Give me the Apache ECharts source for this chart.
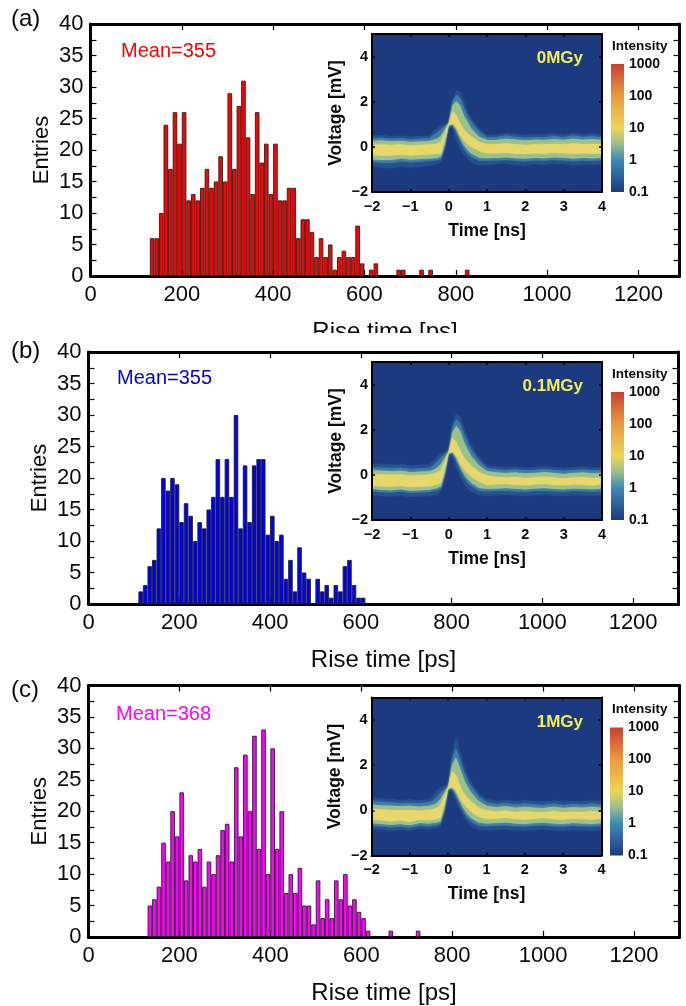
<!DOCTYPE html>
<html>
<head>
<meta charset="utf-8">
<style>html,body{margin:0;padding:0;background:#fff}#c{width:686px;height:1006px}</style>
<script src="https://cdn.jsdelivr.net/npm/echarts@6/dist/echarts.min.js"></script>
</head>
<body>
<div id="c"></div>
<script>
// ---------- histogram data (entries per 10 ps bin) ----------
const binStartA = 130;
const entriesA = [6,6,10,24,17,26,21,26,12,13,12,14,17,14,15,19,15,29,17,27,31,22,13,26,18,21,13,21,12,12,14,14,6,9,9,7,3,6,3,5,1,3,4,3,3,8,2,0,1,2,0,0,0,0,1,1,0,0,0,1,0,1,0,0,0,0,0,0,0,1];
const binStartB = 110;
const entriesB = [2,3,6,7,12,20,18,20,19,13,16,14,10,13,12,15,17,23,17,23,17,30,12,22,13,22,23,23,11,14,10,11,4,7,2,9,5,4,0,4,2,3,1,3,2,6,7,3,1,1];
const binStartC = 130;
const entriesC = [5,6,8,15,12,20,16,23,9,13,12,14,8,12,10,13,17,18,12,27,16,29,20,32,14,33,10,30,14,20,7,10,7,11,5,5,2,9,3,6,3,9,6,10,5,6,4,3,1,0,0,0,0,1,0,0,0,0,0,1];
const meanLabels = ['Mean=355','Mean=355','Mean=368'];
const doseLabels = ['0MGy','0.1MGy','1MGy'];
const panelLabels = ['(a)','(b)','(c)'];
const xTickStep = 200, yTickStep = 5;
const intensityTicks = [0.1,1,10,100,1000];

// ---------- waveform density: band edges [mV] read at these times [ns] ----------
const times = [-2,-1.75,-1.5,-1.25,-1,-0.75,-0.5,-0.4,-0.3,-0.2,-0.1,0,0.1,0.2,0.3,0.4,0.5,0.6,0.8,1,1.25,1.5,1.75,2,2.25,2.5,2.75,3,3.25,3.5,3.75,4];

const a_faintHi = [0.50,0.52,0.47,0.49,0.45,0.47,0.50,0.70,0.80,0.94,1.02,1.08,2.10,2.50,2.42,1.98,1.52,1.25,0.80,0.52,0.54,0.62,0.56,0.52,0.56,0.54,0.60,0.54,0.62,0.56,0.60,0.54];
const a_faintLo = [-0.85,-0.92,-0.95,-0.86,-0.92,-0.88,-0.82,-0.80,-0.76,-0.66,-0.10,0.90,0.88,0.32,-0.05,-0.36,-0.55,-0.70,-0.82,-0.80,-0.76,-0.74,-0.80,-0.82,-0.76,-0.80,-0.74,-0.76,-0.82,-0.78,-0.80,-0.76];
const a_outerHi = [0.38,0.40,0.36,0.38,0.34,0.36,0.38,0.52,0.62,0.78,0.92,1.06,1.98,2.30,2.18,1.74,1.34,1.08,0.66,0.42,0.44,0.50,0.44,0.40,0.44,0.42,0.48,0.42,0.50,0.44,0.48,0.42];
const a_outerLo = [-0.66,-0.70,-0.72,-0.64,-0.68,-0.66,-0.62,-0.60,-0.58,-0.54,-0.02,0.92,0.96,0.62,0.24,-0.08,-0.30,-0.46,-0.62,-0.62,-0.60,-0.58,-0.62,-0.64,-0.60,-0.62,-0.58,-0.60,-0.64,-0.60,-0.62,-0.60];
const a_midHi = [0.26,0.28,0.25,0.26,0.22,0.24,0.26,0.30,0.36,0.50,0.78,1.05,1.82,2.02,1.82,1.38,1.08,0.78,0.44,0.30,0.30,0.36,0.32,0.28,0.32,0.30,0.34,0.30,0.36,0.32,0.34,0.30];
const a_midLo = [-0.55,-0.58,-0.58,-0.52,-0.56,-0.54,-0.52,-0.50,-0.48,-0.42,0.10,0.93,1.00,0.76,0.38,0.08,-0.14,-0.30,-0.47,-0.50,-0.48,-0.46,-0.50,-0.52,-0.48,-0.50,-0.46,-0.48,-0.52,-0.48,-0.50,-0.48];
const a_coreHi = [0.08,0.10,0.08,0.10,0.06,0.08,0.10,0.12,0.14,0.24,0.62,1.03,1.58,1.40,1.04,0.74,0.58,0.44,0.20,0.12,0.12,0.16,0.12,0.08,0.12,0.10,0.14,0.10,0.16,0.12,0.14,0.10];
const a_coreLo = [-0.36,-0.38,-0.38,-0.34,-0.38,-0.36,-0.34,-0.32,-0.32,-0.30,0.36,0.96,1.04,0.88,0.52,0.30,0.12,0.00,-0.18,-0.28,-0.28,-0.26,-0.30,-0.32,-0.28,-0.30,-0.26,-0.28,-0.32,-0.28,-0.30,-0.28];

const b_faintHi = [0.50,0.48,0.46,0.48,0.42,0.44,0.46,0.62,0.78,0.94,1.02,1.10,2.30,2.72,2.60,2.10,1.62,1.28,0.76,0.42,0.36,0.34,0.36,0.32,0.34,0.38,0.34,0.30,0.34,0.36,0.32,0.34];
const b_faintLo = [-0.90,-0.94,-0.96,-0.92,-0.98,-0.96,-0.94,-0.90,-0.86,-0.72,-0.12,0.90,0.86,0.30,-0.08,-0.40,-0.62,-0.76,-0.90,-0.92,-0.90,-0.88,-0.92,-0.94,-0.90,-0.88,-0.92,-0.94,-0.90,-0.92,-0.94,-0.90];
const b_outerHi = [0.34,0.32,0.30,0.32,0.26,0.28,0.30,0.42,0.58,0.76,0.92,1.06,2.10,2.46,2.30,1.82,1.40,1.08,0.62,0.30,0.24,0.22,0.24,0.20,0.22,0.26,0.22,0.18,0.22,0.24,0.20,0.22];
const b_outerLo = [-0.72,-0.76,-0.78,-0.74,-0.80,-0.78,-0.76,-0.72,-0.68,-0.60,-0.04,0.92,0.96,0.60,0.22,-0.12,-0.36,-0.52,-0.72,-0.74,-0.72,-0.70,-0.74,-0.76,-0.72,-0.70,-0.74,-0.76,-0.72,-0.74,-0.76,-0.72];
const b_midHi = [0.20,0.18,0.16,0.18,0.12,0.14,0.16,0.22,0.32,0.48,0.76,1.05,1.90,2.16,1.94,1.46,1.10,0.80,0.40,0.16,0.10,0.08,0.10,0.06,0.08,0.12,0.08,0.04,0.08,0.10,0.06,0.08];
const b_midLo = [-0.62,-0.66,-0.68,-0.64,-0.70,-0.68,-0.66,-0.62,-0.58,-0.50,0.08,0.93,1.00,0.74,0.36,0.04,-0.20,-0.36,-0.58,-0.62,-0.60,-0.58,-0.62,-0.64,-0.60,-0.58,-0.62,-0.64,-0.60,-0.62,-0.64,-0.60];
const b_coreHi = [0.04,0.02,0.00,0.02,-0.04,-0.02,0.00,0.04,0.10,0.22,0.60,1.03,1.62,1.44,1.08,0.76,0.56,0.38,0.12,-0.04,-0.10,-0.12,-0.10,-0.14,-0.12,-0.08,-0.12,-0.16,-0.12,-0.10,-0.14,-0.12];
const b_coreLo = [-0.46,-0.50,-0.52,-0.48,-0.54,-0.52,-0.50,-0.46,-0.42,-0.36,0.34,0.96,1.04,0.86,0.50,0.26,0.06,-0.08,-0.30,-0.44,-0.42,-0.40,-0.44,-0.46,-0.42,-0.40,-0.44,-0.46,-0.42,-0.44,-0.46,-0.42];

const c_faintHi = [0.56,0.52,0.50,0.46,0.48,0.44,0.50,0.66,0.86,1.02,1.08,1.14,2.45,3.28,2.66,2.02,1.56,1.26,0.78,0.50,0.42,0.46,0.40,0.44,0.40,0.38,0.44,0.38,0.42,0.40,0.44,0.40];
const c_faintLo = [-0.82,-0.86,-0.90,-0.86,-0.92,-0.82,-0.84,-0.82,-0.80,-0.70,-0.14,0.90,0.86,0.44,0.08,-0.28,-0.50,-0.68,-0.86,-0.88,-0.86,-0.84,-0.88,-0.90,-0.86,-0.84,-0.88,-0.90,-0.86,-0.88,-0.90,-0.86];
const c_outerHi = [0.42,0.38,0.36,0.32,0.34,0.30,0.36,0.44,0.58,0.78,0.94,1.08,2.22,2.76,2.30,1.78,1.36,1.06,0.62,0.36,0.28,0.32,0.26,0.30,0.26,0.24,0.30,0.24,0.28,0.26,0.30,0.26];
const c_outerLo = [-0.68,-0.72,-0.76,-0.72,-0.78,-0.68,-0.70,-0.68,-0.66,-0.58,-0.06,0.92,0.96,0.64,0.28,-0.08,-0.32,-0.50,-0.68,-0.70,-0.68,-0.66,-0.70,-0.72,-0.68,-0.66,-0.70,-0.72,-0.68,-0.70,-0.72,-0.68];
const c_midHi = [0.26,0.22,0.20,0.18,0.20,0.16,0.20,0.24,0.32,0.50,0.78,1.06,2.00,2.34,1.92,1.42,1.06,0.78,0.40,0.20,0.14,0.18,0.12,0.16,0.12,0.10,0.16,0.10,0.14,0.12,0.16,0.12];
const c_midLo = [-0.56,-0.60,-0.64,-0.60,-0.66,-0.56,-0.58,-0.56,-0.54,-0.48,0.06,0.93,1.00,0.78,0.42,0.08,-0.16,-0.34,-0.54,-0.58,-0.56,-0.54,-0.58,-0.60,-0.56,-0.54,-0.58,-0.60,-0.56,-0.58,-0.60,-0.56];
const c_coreHi = [0.06,0.04,0.02,0.00,0.02,-0.02,0.02,0.04,0.10,0.24,0.62,1.03,1.72,1.58,1.12,0.78,0.56,0.38,0.12,0.00,-0.06,-0.02,-0.08,-0.04,-0.08,-0.10,-0.04,-0.10,-0.06,-0.08,-0.04,-0.08];
const c_coreLo = [-0.40,-0.44,-0.48,-0.44,-0.50,-0.40,-0.42,-0.40,-0.38,-0.34,0.32,0.96,1.04,0.90,0.56,0.30,0.10,-0.06,-0.28,-0.38,-0.36,-0.34,-0.38,-0.40,-0.36,-0.34,-0.38,-0.40,-0.36,-0.38,-0.40,-0.36];

// ---------- layout and style ----------
const FONT = 'Liberation Sans';
const INK = '#0a0a0a';
const panels = [
  {bin:binStartA, vals:entriesA, color:'#ff0000', left:90.5, top:24, w:589, xMax:1290, inset:[372,34], meanXY:[121,52],
   bands:[[a_faintHi,a_faintLo],[a_outerHi,a_outerLo],[a_midHi,a_midLo],[a_coreHi,a_coreLo]]},
  {bin:binStartB, vals:entriesB, color:'#0000f0', left:88.5, top:352, w:590, xMax:1300, inset:[372,362], meanXY:[117,379],
   bands:[[b_faintHi,b_faintLo],[b_outerHi,b_outerLo],[b_midHi,b_midLo],[b_coreHi,b_coreLo]]},
  {bin:binStartC, vals:entriesC, color:'#ff00ff', left:88.5, top:685.5, w:591, xMax:1300, inset:[371.5,697.5], meanXY:[116,715],
   bands:[[c_faintHi,c_faintLo],[c_outerHi,c_outerLo],[c_midHi,c_midLo],[c_coreHi,c_coreLo]]}
];
const bandColors = ['#25508f','#3c7ba6','#9cc08a','#e8d86c'];
const barStops = [[0,'#c8402f'],[0.25,'#e99b3e'],[0.5,'#eed556'],[0.62,'#9cc08a'],[0.75,'#3d8ab5'],[1,'#1b3a80']];
const HEAT_BG = '#1b3a80';

const grid=[], xAxis=[], yAxis=[], series=[], graphic=[];

function addGrid(g){ grid.push(g); return grid.length-1; }
const plain = v=>String(v);

panels.forEach((p,i)=>{
  const H = 252;
  // main histogram
  const gi = addGrid({left:p.left, top:p.top, width:p.w, height:H, containLabel:false});
  const xi = xAxis.length;
  xAxis.push({gridIndex:gi, type:'value', min:0, max:p.xMax, interval:xTickStep, position:'bottom',
    name:'Rise time [ps]', nameLocation:'middle', nameGap:44,
    nameTextStyle:{fontFamily:FONT,fontSize:24,color:INK},
    axisLine:{show:true,onZero:false,lineStyle:{color:'#000',width:3}},
    axisTick:{show:true,inside:true,length:6,lineStyle:{color:'#000',width:1.2}},
    axisLabel:{fontFamily:FONT,fontSize:22,color:INK,margin:8,formatter:plain}, splitLine:{show:false}});
  xAxis.push({gridIndex:gi, type:'value', min:0, max:p.xMax, interval:xTickStep, position:'top',
    axisLine:{show:true,onZero:false,lineStyle:{color:'#000',width:3}},
    axisTick:{show:true,inside:true,length:6,lineStyle:{color:'#000',width:1.2}},
    axisLabel:{show:false}, splitLine:{show:false}});
  const yi = yAxis.length;
  yAxis.push({gridIndex:gi, type:'value', min:0, max:40, interval:yTickStep, position:'left',
    name:'Entries', nameLocation:'middle', nameGap:38, nameMoveOverlap:false,
    nameTextStyle:{fontFamily:FONT,fontSize:22,color:INK},
    axisLine:{show:true,onZero:false,lineStyle:{color:'#000',width:3}},
    axisTick:{show:true,inside:true,length:6,lineStyle:{color:'#000',width:1.2}},
    minorTick:{show:true,splitNumber:2,length:6,lineStyle:{color:'#000',width:1.2}},
    axisLabel:{fontFamily:FONT,fontSize:22,color:INK,margin:7,formatter:plain}, splitLine:{show:false}, minorSplitLine:{show:false}});
  yAxis.push({gridIndex:gi, type:'value', min:0, max:40, interval:yTickStep, position:'right',
    axisLine:{show:true,onZero:false,lineStyle:{color:'#000',width:3}},
    axisTick:{show:true,inside:true,length:6,lineStyle:{color:'#000',width:1.2}},
    minorTick:{show:true,splitNumber:2,length:6,lineStyle:{color:'#000',width:1.2}},
    axisLabel:{show:false}, splitLine:{show:false}, minorSplitLine:{show:false}});
  series.push({type:'bar', xAxisIndex:xi, yAxisIndex:yi, barWidth:p.w/p.xMax*10, animation:false,
    data:p.vals.map((v,k)=>[p.bin+10*k+5,v]).filter(d=>d[1]>0),
    itemStyle:{color:p.color,borderColor:'#222',borderWidth:0.9}});

  // inset waveform density
  const [ix,iy] = p.inset;
  const g2 = addGrid({left:ix, top:iy, width:230, height:158, show:true, backgroundColor:HEAT_BG, borderWidth:0, z:3});
  const x2 = xAxis.length;
  const minus = v=>String(v).replace('-','\u2212');
  const insetLine = {show:true,onZero:false,lineStyle:{color:'#000',width:2}};
  const insetTick = {show:true,inside:true,length:3,lineStyle:{color:'#000',width:1.5}};
  xAxis.push({gridIndex:g2, type:'value', min:-2, max:4, interval:1, position:'bottom', z:6,
    name:'Time [ns]', nameLocation:'middle', nameGap:30,
    nameTextStyle:{fontFamily:FONT,fontSize:17.5,fontWeight:'bold',color:INK},
    axisLine:insetLine, axisTick:insetTick,
    axisLabel:{fontFamily:FONT,fontSize:14.5,fontWeight:'bold',color:INK,margin:7,formatter:minus}, splitLine:{show:false}});
  xAxis.push({gridIndex:g2, type:'value', min:-2, max:4, interval:1, position:'top', z:6,
    axisLine:insetLine, axisTick:insetTick, axisLabel:{show:false}, splitLine:{show:false}});
  const y2 = yAxis.length;
  yAxis.push({gridIndex:g2, type:'value', min:-2, max:5, interval:2, position:'left', z:6,
    name:'Voltage [mV]', nameLocation:'middle', nameGap:27, nameMoveOverlap:false,
    nameTextStyle:{fontFamily:FONT,fontSize:17.5,fontWeight:'bold',color:INK},
    axisLine:insetLine, axisTick:insetTick,
    axisLabel:{fontFamily:FONT,fontSize:14.5,fontWeight:'bold',color:INK,margin:4,showMaxLabel:false,formatter:minus}, splitLine:{show:false}});
  yAxis.push({gridIndex:g2, type:'value', min:-2, max:5, interval:2, position:'right', z:6,
    axisLine:insetLine, axisTick:insetTick, axisLabel:{show:false}, splitLine:{show:false}});
  p.bands.forEach(([hi,lo],b)=>{
    series.push({type:'custom', xAxisIndex:x2, yAxisIndex:y2, z:4, animation:false, silent:true,
      clip:true,
      data:times.map((t,k)=>[t,lo[k],hi[k]]),
      encode:{x:0,y:[1,2]},
      renderItem:(params,api)=>{
        if(params.dataIndex!==0) return null;
        const pts=[];
        times.forEach((t,k)=>pts.push(api.coord([t,hi[k]])));
        for(let k=times.length-1;k>=0;k--) pts.push(api.coord([times[k],lo[k]]));
        return {type:'polygon',shape:{points:pts,smooth:0},
          style:{fill:bandColors[b],shadowBlur:1.5,shadowColor:bandColors[b]}};
      }});
  });

  // colour bar
  const cbx = i===2?610:611, cby = iy+30;
  const g3 = addGrid({left:cbx, top:cby, width:13, height:128});
  const x3 = xAxis.length;
  xAxis.push({gridIndex:g3, type:'value', min:0, max:1, show:false});
  const y3 = yAxis.length;
  yAxis.push({gridIndex:g3, type:'log', logBase:10, min:intensityTicks[0], max:intensityTicks[intensityTicks.length-1], position:'right',
    axisLine:{show:false}, axisTick:{show:false}, splitLine:{show:false}, minorTick:{show:false},
    axisLabel:{fontFamily:FONT,fontSize:14,fontWeight:'bold',color:INK,margin:5,showMinLabel:true,showMaxLabel:true,
      formatter:v=>String(Math.round(v*10)/10)}});
  series.push({type:'custom', xAxisIndex:x3, yAxisIndex:y3, animation:false, silent:true, clip:false,
    data:[[0,intensityTicks[0],intensityTicks[intensityTicks.length-1]]],
    encode:{x:0,y:[1,2]},
    renderItem:(params,api)=>{
      const a=api.coord([0,api.value(2)]), c=api.coord([1,api.value(1)]);
      return {type:'rect',shape:{x:a[0],y:a[1],width:c[0]-a[0],height:c[1]-a[1]},
        style:{fill:new echarts.graphic.LinearGradient(0,0,0,1,barStops.map(s=>({offset:s[0],color:s[1]})))}};
    }});

  // texts
  const tx=(text,x,y,fs,fill,weight,align)=>graphic.push({type:'text',left:x,top:y-fs/2-1,z:50,
    style:{text,fontFamily:FONT,fontSize:fs,fontWeight:weight||'normal',fill,textAlign:align||'left'}});
  tx(panelLabels[i],11,[20,352,691][i],24,INK);
  tx(meanLabels[i],p.meanXY[0],p.meanXY[1],20,p.color==='#0000f0'?'#0000e0':p.color);
  graphic.push({type:'text',right:686-583,top:iy+25-9,z:50,
    style:{text:doseLabels[i],fontFamily:FONT,fontSize:17,fontWeight:'bold',fill:'#f4ee4e'}});
  tx('Intensity',612,iy+13,13.5,INK,'bold');
});

// the lower part of panel (a)'s axis title is cut off in the reference
graphic.push({type:'rect',left:290,top:333,z:40,shape:{width:190,height:12},style:{fill:'#fff'}});

const chart = echarts.init(document.getElementById('c'),null,{renderer:'canvas'});
chart.setOption({animation:false,backgroundColor:'#fff',grid,xAxis,yAxis,series,graphic});
</script>
</body>
</html>
